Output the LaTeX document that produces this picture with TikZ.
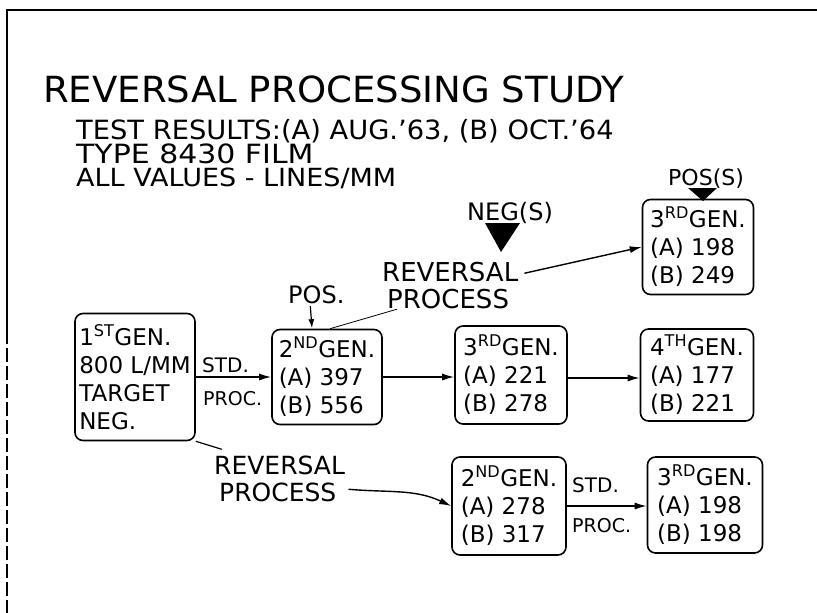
\documentclass[tikz,border=0pt]{standalone}
\usepackage{fontspec}
\setmainfont{DejaVu Sans}
\usetikzlibrary{arrows.meta,calc}
\begin{document}
\begin{tikzpicture}[x=1pt,y=-1pt,
  gbox/.style={draw,line width=1.6pt,rounded corners=8pt,align=left,inner sep=3pt,
    font=\fontsize{23}{28}\selectfont},
  lbl/.style={anchor=base west,inner sep=0pt,text height=0.75em,text depth=0pt},
  arr/.style={line width=1.4pt,-{Latex[length=12pt,width=7pt]}},
  plain/.style={line width=1.2pt},
  border/.style={line width=1.8pt}
]
\fill[white] (0,0) rectangle (817,613);
\useasboundingbox (0,0) rectangle (817,613);
% border
\draw[border] (817,10) -- (7,10) -- (7,330);
\draw[border,dash pattern=on 14pt off 4pt] (7,330) -- (7,613);
% header texts
\node[lbl,font=\fontsize{36}{40}\selectfont] (title) at (43,102) {\scalebox{1.03}[1]{REVERSAL PROCESSING STUDY}};
\node[lbl,font=\fontsize{26.5}{30}\selectfont] (test) at (76,139) {\scalebox{1.03}[1]{TEST RESULTS:(A) AUG.’63, (B) OCT.’64}};
\node[lbl,font=\fontsize{26.5}{30}\selectfont] (type) at (76,163) {\scalebox{1.13}[1]{TYPE 8430 FILM}};
\node[lbl,font=\fontsize{25}{30}\selectfont] (all) at (76,186) {\scalebox{1.08}[1]{ALL VALUES - LINES/MM}};
% markers
\node[lbl,font=\fontsize{24}{28}\selectfont] (neg) at (467,220) {NEG(S)};
\fill (485,223) -- (520,223) -- (501,252) -- cycle;
\node[lbl,font=\fontsize{22}{26}\selectfont] (poss) at (668,185) {POS(S)};
\fill (688,188) -- (717,188) -- (703,201) -- cycle;
% boxes
\node[gbox,minimum width=120pt,minimum height=127pt] (n1) at (135,377)
  {1\textsuperscript{ST}GEN.\\800 L/MM\\TARGET\\NEG.};
\node[gbox,minimum width=110pt,minimum height=95pt] (n2) at (327,377)
  {2\textsuperscript{ND}GEN.\\(A) 397\\(B) 556};
\node[gbox,minimum width=112pt,minimum height=98pt] (n3) at (511,375)
  {3\textsuperscript{RD}GEN.\\(A) 221\\(B) 278};
\node[gbox,minimum width=113pt,minimum height=92pt] (n4) at (697,375)
  {4\textsuperscript{TH}GEN.\\(A) 177\\(B) 221};
\node[gbox,minimum width=111pt,minimum height=95pt] (t3) at (698,247)
  {3\textsuperscript{RD}GEN.\\(A) 198\\(B) 249};
\node[gbox,minimum width=114pt,minimum height=98pt] (b2) at (509,506)
  {2\textsuperscript{ND}GEN.\\(A) 278\\(B) 317};
\node[gbox,minimum width=115pt,minimum height=96pt] (b3) at (705,505)
  {3\textsuperscript{RD}GEN.\\(A) 198\\(B) 198};
% labels
\node[lbl,font=\fontsize{24}{28}\selectfont] (pos) at (288,303) {POS.};
\node[lbl,font=\fontsize{26}{30}\selectfont] (rpa) at (382,281) {REVERSAL};
\node[lbl,font=\fontsize{26}{30}\selectfont] (rpb) at (387,308) {PROCESS};
\node[lbl,font=\fontsize{20}{24}\selectfont] (std1) at (202,372) {STD.};
\node[lbl,font=\fontsize{19}{24}\selectfont] (proc1) at (203,405) {PROC.};
\node[lbl,font=\fontsize{25}{30}\selectfont] (rpc) at (214,474) {REVERSAL};
\node[lbl,font=\fontsize{25}{30}\selectfont] (rpd) at (219,501) {PROCESS};
\node[lbl,font=\fontsize{20}{24}\selectfont] (std2) at (572,492) {STD.};
\node[lbl,font=\fontsize{19}{24}\selectfont] (proc2) at (572,532) {PROC.};
% connectors
\coordinate (c1) at ($(n1.south east)+(26,8)$);
\draw[arr] (n1.east) -- (n2.west);
\draw[arr] (n2.east) -- (n2.east -| n3.west);
\draw[arr] ($(n3.east)+(0,3)$) -- ($(n3.east -| n4.west)+(0,3)$);
\draw[arr,line width=1.2pt,-{Latex[length=9pt,width=6pt]}] ($(pos.south)+(-6,3)$) -- ($(pos.south -| n2.north)+(-15,25)$);
\draw[plain,line width=0.8pt] ($(rpb.south west)+(10,1)$) -- ($(n2.north)+(3,0)$);
\draw[arr] ($(rpa.east)+(6,-4)$) -- (t3.west);
\draw[plain] (n1.south east) -- (c1);
\draw[arr] ($(rpd.east)+(12,-8)$) to[out=-5,in=155] (b2.west);
\draw[arr] (b2.east) -- (b2.east -| b3.west);
\end{tikzpicture}
\end{document}
